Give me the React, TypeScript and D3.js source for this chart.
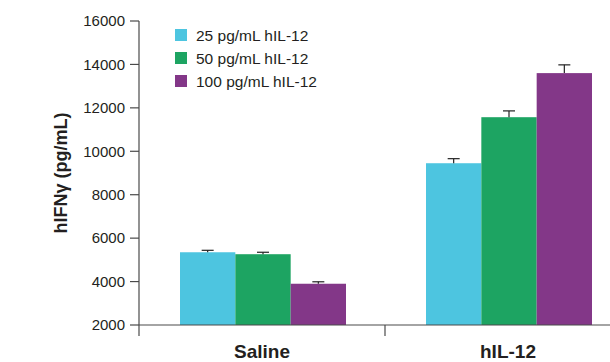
import React from "react";
import * as d3 from "d3";

const categories = ["Saline", "hIL-12"];
const seriesNames = ["25 pg/mL hIL-12", "50 pg/mL hIL-12", "100 pg/mL hIL-12"];
const seriesColors = ["#4DC5E0", "#1DA462", "#833788"];
const values = [
  [5350, 9450],
  [5260, 11570],
  [3900, 13600],
];
const errors = [
  [90, 210],
  [90, 290],
  [90, 380],
];
const yTicks = [2000, 4000, 6000, 8000, 10000, 12000, 14000, 16000];

export default function App() {
  const W = 610, H = 362;
  const axisX = 139, baseY = 325;
  const y = d3.scaleLinear().domain([2000, 16000]).range([325, 21]);
  const x0 = d3.scaleBand().domain(categories).range([axisX, 631]).padding(0);
  const x1 = d3.scaleBand().domain(seriesNames).range([41, 207]).padding(0);
  const axisColor = "#4a4a4a";
  const textColor = "#231f20";
  const font = "Liberation Sans, Arial, Helvetica, sans-serif";

  return (
    <svg width={W} height={H} style={{ position: "absolute", left: 0, top: 0 }} fontFamily={font}>
      <rect x={0} y={0} width={W} height={H} fill="#fff" />
      {/* bars */}
      {seriesNames.map((s, si) =>
        categories.map((c, ci) => {
          const bx = (x0(c) as number) + (x1(s) as number);
          const v = values[si][ci];
          const e = errors[si][ci];
          const cx = bx + x1.bandwidth() / 2;
          return (
            <g key={s + c}>
              <rect x={bx} y={y(v)} width={x1.bandwidth()} height={baseY - y(v)} fill={seriesColors[si]} />
              <line x1={cx} x2={cx} y1={y(v)} y2={y(v + e)} stroke="#222" strokeWidth={1.2} />
              <line x1={cx - 6} x2={cx + 6} y1={y(v + e)} y2={y(v + e)} stroke="#222" strokeWidth={1.2} />
            </g>
          );
        })
      )}
      {/* y axis */}
      <line x1={axisX} x2={axisX} y1={y(16000)} y2={336} stroke={axisColor} strokeWidth={1.2} />
      {yTicks.map((t) => (
        <g key={t}>
          <line x1={130} x2={axisX} y1={y(t)} y2={y(t)} stroke={axisColor} strokeWidth={1.2} />
          <text x={125} y={y(t)} dy="0.35em" textAnchor="end" fontSize={15} fill={textColor}>
            {t}
          </text>
        </g>
      ))}
      {/* x axis */}
      <line x1={axisX} x2={W} y1={baseY} y2={baseY} stroke={axisColor} strokeWidth={1.2} />
      <line x1={x0("hIL-12") as number} x2={x0("hIL-12") as number} y1={baseY} y2={336} stroke={axisColor} strokeWidth={1.2} />
      {categories.map((c) => (
        <text key={c} x={(x0(c) as number) + x0.bandwidth() / 2} y={358} textAnchor="middle" fontSize={19} fontWeight="bold" fill={textColor}>
          {c}
        </text>
      ))}
      {/* y label */}
      <text transform={`translate(67,173) rotate(-90)`} textAnchor="middle" fontSize={18} fontWeight="bold" fill={textColor}>
        hIFNγ (pg/mL)
      </text>
      {/* legend */}
      {seriesNames.map((s, i) => (
        <g key={s} transform={`translate(175,${29 + i * 23})`}>
          <rect x={0} y={0} width={12} height={12} fill={seriesColors[i]} />
          <text x={21} y={11.5} fontSize={15.5} fill={textColor}>
            {s}
          </text>
        </g>
      ))}
    </svg>
  );
}
